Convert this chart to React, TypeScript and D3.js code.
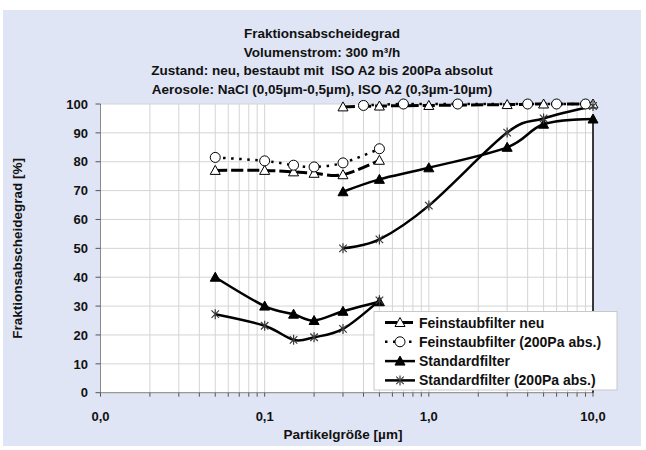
import React from "react";
import * as d3 from "d3";

// ---- data ----
const titleLines = [
  "Fraktionsabscheidegrad",
  "Volumenstrom: 300 m³/h",
  "Zustand: neu, bestaubt mit  ISO A2 bis 200Pa absolut",
  "Aerosole: NaCl (0,05µm-0,5µm), ISO A2 (0,3µm-10µm)",
];
const yTicks = [0, 10, 20, 30, 40, 50, 60, 70, 80, 90, 100];
const xDecades = [0.01, 0.1, 1, 10];
const xDecadeLabels = ["0,0", "0,1", "1,0", "10,0"];

// NaCl range (0.05-0.5 µm)
const xLow = [0.05, 0.1, 0.15, 0.2, 0.3, 0.5];
const neuLow = [77, 77, 76.5, 76, 75.5, 80.5];
const dustLow = [81.5, 80.3, 78.8, 78.2, 79.6, 84.5];
const stdLow = [40, 30, 27.2, 25, 28.2, 31.5];
const std200Low = [27.2, 23.2, 18.3, 19.2, 22.1, 32];

// ISO A2 range (0.3-10 µm)
const xHigh = [0.3, 0.5, 1, 3, 5, 10];
const neuHigh = [99, 99.3, 99.5, 99.8, 100, 100];
const stdHigh = [69.6, 73.9, 77.9, 85, 93, 94.8];
const std200High = [50, 53.1, 64.8, 90.1, 95, 99.3];
const xDustHigh = [0.4, 0.7, 1.5, 4, 6, 9];
const dustHigh = [99.5, 100, 100, 100, 100, 100];

// Standardfilter drop at the end of the axis
const stdDropX = 10;
const stdDropValues = [94.8, 0];

const legendLabels = [
  "Feinstaubfilter neu",
  "Feinstaubfilter (200Pa abs.)",
  "Standardfilter",
  "Standardfilter (200Pa abs.)",
];

// ---- layout ----
const W = 646;
const H = 450;
const plot = { left: 100.5, right: 593, top: 104, bottom: 392.7 };
const BG = "#dfe5f4";
const FONT = "Arial, 'Liberation Sans', Helvetica, sans-serif";
const NARROW = "'Liberation Sans Narrow', 'Arial Narrow', Arial, 'Liberation Sans', sans-serif";

type Style = {
  dash?: string;
  width: number;
  marker: "triOpen" | "circle" | "triFilled" | "star";
};

const styles: Style[] = [
  { dash: "12,4", width: 3, marker: "triOpen" },
  { dash: "2.5,5.5", width: 2.5, marker: "circle" },
  { width: 2.5, marker: "triFilled" },
  { width: 2.5, marker: "star" },
];

function Marker({ kind, x, y }: { kind: Style["marker"]; x: number; y: number }) {
  if (kind === "triOpen" || kind === "triFilled") {
    const s = 5;
    const p = `M${x},${y - s} L${x + s},${y + s * 0.8} L${x - s},${y + s * 0.8} Z`;
    return (
      <path
        d={p}
        fill={kind === "triOpen" ? "#fff" : "#000"}
        stroke="#000"
        strokeWidth={1}
      />
    );
  }
  if (kind === "circle") {
    return <circle cx={x} cy={y} r={5} fill="#fff" stroke="#000" strokeWidth={1} />;
  }
  const r = 5;
  const d = r * 0.75;
  return (
    <path
      d={`M${x - d},${y - d} L${x + d},${y + d} M${x - d},${y + d} L${x + d},${y - d} M${x},${y - r} L${x},${y + r}`}
      stroke="#3a3a3a"
      strokeWidth={1.2}
      fill="none"
    />
  );
}

export default function App() {
  const x = d3.scaleLog().domain([0.01, 10]).range([plot.left, plot.right]);
  const y = d3.scaleLinear().domain([0, 100]).range([plot.bottom, plot.top]);

  const minor: number[] = [];
  for (let k = -2; k <= 0; k++) {
    for (let m = 1; m <= 9; m++) minor.push(m * Math.pow(10, k));
  }
  minor.push(10);

  const line = d3
    .line<[number, number]>()
    .x((d) => x(d[0]))
    .y((d) => y(d[1]))
    .curve(d3.curveCardinal.tension(0));

  const zip = (xs: number[], ys: number[]) => xs.map((v, i) => [v, ys[i]] as [number, number]);

  const seriesSegments: [number, number][][][] = [
    [zip(xLow, neuLow), zip(xHigh, neuHigh)],
    [zip(xLow, dustLow), zip(xDustHigh, dustHigh)],
    [zip(xLow, stdLow), zip(xHigh, stdHigh)],
    [zip(xLow, std200Low), zip(xHigh, std200High)],
  ];

  const legend = { x: 374, y: 311.5, w: 243, h: 78.5 };
  const rowY = (i: number) => legend.y + 11 + i * 19.3;

  return (
    <svg
      width={W}
      height={H}
      style={{ position: "absolute", left: 0, top: 0, display: "block" }}
      fontFamily={FONT}
    >
      <rect x={0} y={0} width={W} height={H} fill="#fff" />
      <rect x={3} y={10} width={638} height={436} fill={BG} />
      <rect
        x={plot.left}
        y={plot.top}
        width={plot.right - plot.left}
        height={plot.bottom - plot.top}
        fill="#fff"
      />
      {/* grid */}
      {yTicks.map((t) => (
        <line
          key={"hg" + t}
          x1={plot.left}
          x2={plot.right}
          y1={y(t)}
          y2={y(t)}
          stroke="#d4d4d4"
          strokeWidth={1}
        />
      ))}
      {minor.map((m, i) => (
        <line
          key={"vg" + i}
          x1={x(m)}
          x2={x(m)}
          y1={plot.top}
          y2={plot.bottom}
          stroke="#d4d4d4"
          strokeWidth={1}
        />
      ))}
      {/* axes */}
      <line x1={plot.left} x2={plot.left} y1={plot.top} y2={plot.bottom} stroke="#8a8a8a" />
      <line x1={plot.left} x2={plot.right} y1={plot.bottom} y2={plot.bottom} stroke="#8a8a8a" />
      {yTicks.map((t) => (
        <g key={"yt" + t}>
          <line x1={plot.left - 5} x2={plot.left} y1={y(t)} y2={y(t)} stroke="#555" />
          <text
            x={88}
            y={y(t)}
            dy="0.36em"
            textAnchor="end"
            fontSize={13}
            fontWeight="bold"
            fill="#111"
          >
            {t}
          </text>
        </g>
      ))}
      {minor.map((m, i) => (
        <line
          key={"xt" + i}
          x1={x(m)}
          x2={x(m)}
          y1={plot.bottom}
          y2={plot.bottom + 4}
          stroke="#555"
        />
      ))}
      {xDecades.map((v, i) => (
        <text
          key={"xl" + v}
          x={x(v)}
          y={421}
          textAnchor="middle"
          fontSize={13}
          fontWeight="bold"
          fill="#111"
        >
          {xDecadeLabels[i]}
        </text>
      ))}
      {/* series */}
      {seriesSegments.map((segs, si) =>
        segs.map((seg, k) => (
          <path
            key={`s${si}-${k}`}
            d={line(seg) || ""}
            fill="none"
            stroke="#000"
            strokeWidth={styles[si].width}
            strokeDasharray={styles[si].dash}
          />
        ))
      )}
      <line
        x1={x(stdDropX)}
        x2={x(stdDropX)}
        y1={y(stdDropValues[0])}
        y2={y(stdDropValues[1])}
        stroke="#000"
        strokeWidth={1.5}
      />
      {seriesSegments.map((segs, si) =>
        segs.map((seg, k) =>
          seg.map((p, j) => (
            <Marker key={`m${si}-${k}-${j}`} kind={styles[si].marker} x={x(p[0])} y={y(p[1])} />
          ))
        )
      )}
      {/* titles */}
      {titleLines.map((t, i) => (
        <text
          key={"t" + i}
          x={322}
          y={38 + i * 18.5}
          textAnchor="middle"
          fontSize={13.5}
          fontWeight="bold"
          fontFamily={NARROW}
          fill="#111"
          style={{ whiteSpace: "pre" }}
        >
          {t}
        </text>
      ))}
      <text
        transform={`translate(22,${(plot.top + plot.bottom) / 2}) rotate(-90)`}
        textAnchor="middle"
        fontSize={13.5}
        fontWeight="bold"
        fontFamily={NARROW}
        fill="#111"
      >
        Fraktionsabscheidegrad [%]
      </text>
      <text
        x={343}
        y={439}
        textAnchor="middle"
        fontSize={13.5}
        fontWeight="bold"
        fontFamily={NARROW}
        fill="#111"
      >
        Partikelgröße [µm]
      </text>
      {/* legend */}
      <rect
        x={legend.x}
        y={legend.y}
        width={legend.w}
        height={legend.h}
        fill="#fff"
        stroke="#c8c8c8"
        strokeWidth={1}
      />
      {legendLabels.map((lab, i) => (
        <g key={"lg" + i}>
          <line
            x1={385}
            x2={415}
            y1={rowY(i)}
            y2={rowY(i)}
            stroke="#000"
            strokeWidth={styles[i].width}
            strokeDasharray={styles[i].dash}
          />
          <Marker kind={styles[i].marker} x={400} y={rowY(i)} />
          <text
            x={419}
            y={rowY(i)}
            dy="0.36em"
            fontSize={14}
            fontWeight="bold"
            fill="#111"
          >
            {lab}
          </text>
        </g>
      ))}
    </svg>
  );
}
